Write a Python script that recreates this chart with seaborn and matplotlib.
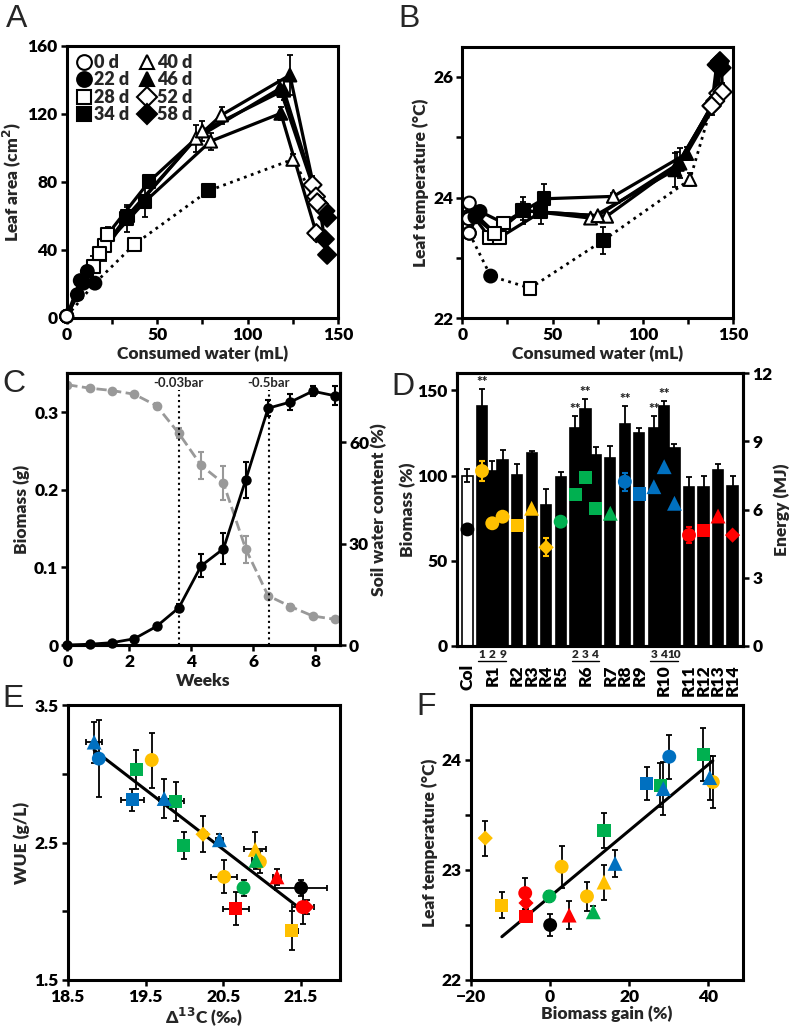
import numpy as np
import pandas as pd
import matplotlib
matplotlib.use('Agg')
import matplotlib.pyplot as plt
import seaborn as sns

# ---- panel A / B: leaf area and leaf temperature vs consumed water (5 plant sets)
days = ['0 d', '22 d', '28 d', '34 d', '40 d', '46 d', '52 d', '58 d']
a_water = [
    [0, 5.9, 14.7, 33.1, 71.5, 117.9, 135.9, 143.0],
    [0, 9.2, 20.8, 43.3, 79.6, 118.4, 138.0, 142.7],
    [0, 11.4, 22.7, 45.5, 85.6, 123.4, 137.8, 144.0],
    [0, 7.5, 18.0, 33.5, 75.0, 120.0, 139.5, 144.0],
    [0, 15.6, 37.5, 78.3, 125.0, np.nan, 138.5, np.nan],
]
a_area = [
    [1, 13.7, 30.3, 58.7, 105.7, 135.0, 78.3, 63.0],
    [1, 20.5, 42.5, 68.5, 104.0, 120.4, 49.9, 46.4],
    [1, 27.4, 49.3, 80.2, 119.4, 142.9, 71.4, 59.0],
    [1, 22.0, 38.0, 60.0, 110.0, 134.0, 67.0, 37.2],
    [1, 20.5, 43.4, 74.8, 93.3, np.nan, 68.0, np.nan],
]
a_err = [
    [0, 2, 6, 8, 8, 5, 5, 3],
    [0, 2, 9, 9, 5, 4, 4, 3],
    [0, 3, 4, 3, 5, 12, 4, 4],
    [0, 2, 4, 5, 6, 6, 4, 3],
    [0, 2, 3, 3, 3, np.nan, 3, np.nan],
]
b_water = [
    [3.9, 5.5, 15.0, 33.8, 71.0, 117.7, 138.0, 140.8],
    [3.9, 8.0, 20.8, 43.5, 79.9, 120.5, 141.7, 142.6],
    [3.9, 9.8, 22.7, 45.2, 83.6, 124.2, 144.0, 143.5],
    [3.5, 7.0, 18.0, 33.5, 75.0, 119.0, 140.0, 142.0],
    [3.9, 15.7, 37.5, 78.0, 126.0, np.nan, 138.0, np.nan],
]
b_temp = [
    [23.70, 23.72, 23.34, 23.79, 23.66, 24.46, 25.52, 26.20],
    [23.41, 23.70, 23.34, 23.76, 23.69, 24.57, 25.73, 26.26],
    [23.91, 23.77, 23.58, 23.98, 24.02, 24.73, 25.75, 26.15],
    [23.65, 23.68, 23.40, 23.78, 23.70, 24.55, 25.60, 26.22],
    [23.41, 22.70, 22.50, 23.29, 24.30, np.nan, 25.52, np.nan],
]
b_err = [
    [0.05, 0.05, 0.08, 0.22, 0.05, 0.28, 0.10, 0.08],
    [0.05, 0.05, 0.08, 0.20, 0.05, 0.25, 0.15, 0.08],
    [0.05, 0.08, 0.10, 0.25, 0.05, 0.10, 0.15, 0.08],
    [0.05, 0.05, 0.08, 0.15, 0.05, 0.20, 0.10, 0.08],
    [0.05, 0.05, 0.05, 0.22, 0.10, np.nan, 0.15, np.nan],
]

# ---- panel C: biomass and soil water over time
c_weeks = [0, 0.72, 1.44, 2.16, 2.88, 3.6, 4.32, 5.04, 5.76, 6.48, 7.2, 7.92, 8.64]
c_biomass = [0, 0.001, 0.003, 0.008, 0.024, 0.048, 0.102, 0.124, 0.213, 0.305, 0.313, 0.327, 0.321]
c_biomass_err = [0, 0, 0.001, 0.002, 0.003, 0.005, 0.015, 0.02, 0.023, 0.01, 0.01, 0.006, 0.012]
c_swc = [77.1, 76.1, 75.4, 74.3, 70.9, 62.7, 53.2, 47.9, 28.4, 14.6, 11.4, 8.6, 7.6]
c_swc_err = [0.5, 0.5, 0.5, 0.5, 0.8, 1.5, 4, 5, 4, 0.8, 0.8, 0.6, 0.6]
c_marks = [3.6, 6.5]
c_mark_labels = ['-0.03bar', '-0.5bar']

# ---- panels D / E / F: lines
lines = ['Col', 'R1-1', 'R1-2', 'R1-9', 'R2', 'R3', 'R4', 'R5', 'R6-2', 'R6-3', 'R6-4',
         'R7', 'R8', 'R9', 'R10-3', 'R10-4', 'R10-10', 'R11', 'R12', 'R13', 'R14']
d_biomass = [100, 141, 102.5, 109, 100.6, 113, 83, 99, 128, 139, 112, 110.5, 130, 125,
             128, 141, 116.4, 93, 93, 103.5, 94]
d_biomass_err = [4, 10, 6, 6, 6, 1.5, 9, 3, 7, 6, 5, 7, 11, 3, 7, 3, 2, 6, 7, 3, 6]
d_sig = ['', '**', '', '', '', '', '', '', '**', '**', '', '', '**', '', '**', '**', '', '', '', '', '']
d_energy = [5.13, 7.70, 5.40, 5.69, 5.32, 6.06, 4.34, 5.47, 6.67, 7.40, 6.06, 5.84, 7.23, 6.69,
            7.01, 7.89, 6.28, 4.88, 5.10, 5.72, 4.88]
d_energy_err = [0, 0.45, 0, 0, 0, 0, 0.4, 0, 0, 0, 0, 0, 0.4, 0, 0, 0, 0, 0.35, 0, 0, 0]

e_d13c = [21.50, 19.58, 20.51, 20.97, 21.38, 20.91, 20.24, 20.76, 19.38, 19.89, 19.99,
          20.92, 18.90, 19.33, 18.84, 19.74, 20.45, 21.52, 20.66, 21.19, 21.57]
e_d13c_err = [0.33, 0.0, 0.17, 0.05, 0.08, 0.14, 0.05, 0.04, 0.03, 0.10, 0.03,
              0.05, 0.05, 0.15, 0.10, 0.07, 0.05, 0.14, 0.17, 0.05, 0.05]
e_wue = [2.17, 3.10, 2.25, 2.36, 1.86, 2.45, 2.56, 2.17, 3.03, 2.80, 2.48,
         2.37, 3.11, 2.81, 3.23, 2.82, 2.52, 2.03, 2.02, 2.25, 2.03]
e_wue_err = [0.06, 0.20, 0.12, 0.08, 0.14, 0.13, 0.13, 0.06, 0.14, 0.14, 0.10,
             0.06, 0.28, 0.08, 0.15, 0.14, 0.04, 0.12, 0.12, 0.06, 0.05]

f_gain = [0, 41.1, 2.9, 9.3, -12.2, 13.6, -16.4, -0.2, 13.6, 27.8, 38.7,
          10.9, 30.1, 24.4, 28.6, 40.3, 16.4, -6.3, -6.1, 4.8, -6.1]
f_temp = [22.50, 23.80, 23.03, 22.76, 22.68, 22.89, 23.29, 22.76, 23.36, 23.77, 24.05,
          22.62, 24.03, 23.79, 23.74, 23.84, 23.06, 22.79, 22.58, 22.59, 22.70]
f_temp_err = [0.10, 0.24, 0.19, 0.13, 0.12, 0.16, 0.16, 0.05, 0.16, 0.20, 0.24,
              0.05, 0.20, 0.15, 0.24, 0.20, 0.12, 0.14, 0.05, 0.13, 0.05]
f_outlier = 'R4'

# colours / markers per family
YEL, GRN, BLU, RED = '#FFC000', '#00B050', '#0070C0', '#FF0000'
fam_color = {'Col': 'black', 'R1': YEL, 'R2': YEL, 'R3': YEL, 'R4': YEL,
             'R5': GRN, 'R6': GRN, 'R7': GRN, 'R8': BLU, 'R9': BLU, 'R10': BLU,
             'R11': RED, 'R12': RED, 'R13': RED, 'R14': RED}
fam_marker = {'Col': 'o', 'R1': 'o', 'R2': 's', 'R3': '^', 'R4': 'D', 'R5': 'o', 'R6': 's',
              'R7': '^', 'R8': 'o', 'R9': 's', 'R10': '^', 'R11': 'o', 'R12': 's',
              'R13': '^', 'R14': 'D'}
mk_size = {'o': 100, 's': 90, '^': 115, 'D': 60}

fams = [n.split('-')[0] for n in lines]
pal = {n: fam_color[f] for n, f in zip(lines, fams)}
mks = {n: fam_marker[f] for n, f in zip(lines, fams)}

sns.set_theme(style='ticks')
plt.rcParams['font.family'] = ['Lato', 'DejaVu Sans']
plt.rcParams['font.weight'] = 'heavy'
plt.rcParams['axes.labelweight'] = 'heavy'
plt.rcParams['axes.labelsize'] = 12.5
plt.rcParams['xtick.labelsize'] = 12.5
plt.rcParams['ytick.labelsize'] = 12.5

W, H = 793, 1031
fig = plt.figure(figsize=(W / 100, H / 100), dpi=100)
fig.patch.set_facecolor('white')


def px_axes(l, t, r, b):
    return fig.add_axes([l / W, 1 - b / H, (r - l) / W, (b - t) / H])


def style(ax):
    for sp in ax.spines.values():
        sp.set_visible(True)
        sp.set_linewidth(2.2)
        sp.set_color('black')
    ax.tick_params(which='both', direction='out', width=1.8, length=4, color='black',
                   labelcolor='black', pad=2.5)


def letter(x, y, s):
    fig.text(x / W, 1 - y / H, s, fontsize=23, fontweight='normal',
             family=['Liberation Sans', 'DejaVu Sans'], va='top', ha='left')


day_face = {'0 d': 'white', '22 d': 'black', '28 d': 'white', '34 d': 'black',
            '40 d': 'white', '46 d': 'black', '52 d': 'white', '58 d': 'black'}
day_marker = {'0 d': 'o', '22 d': 'o', '28 d': 's', '34 d': 's',
              '40 d': '^', '46 d': '^', '52 d': 'D', '58 d': 'D'}


def water_panel(ax, xs, ys, errs, legend):
    rows = []
    for i, (x, y, e) in enumerate(zip(xs, ys, errs)):
        df = pd.DataFrame({'x': x, 'y': y, 'e': e, 'day': days}).dropna()
        ax.plot(df['x'], df['y'], color='black', lw=2.3 if i < 4 else 2,
                ls='-' if i < 4 else ':', zorder=2)
        ax.errorbar(df['x'], df['y'], yerr=df['e'], fmt='none', ecolor='black',
                    elinewidth=1.3, capsize=2, capthick=1.3, zorder=2.5)
        rows.append(df)
    pts = pd.concat(rows)
    sns.scatterplot(data=pts, x='x', y='y', hue='day', style='day', hue_order=days,
                    style_order=days, palette=day_face, markers=day_marker, s=85,
                    edgecolor='black', linewidth=1.5, ax=ax, legend=legend,
                    zorder=3, clip_on=False)


# ---- A
axA = px_axes(66.7, 46, 338, 318)
water_panel(axA, a_water, a_area, a_err, 'full')
axA.set_xlim(0, 150)
axA.set_ylim(0, 160)
axA.set_xticks([0, 50, 100, 150])
axA.set_xticks([25, 75, 125], minor=True)
axA.set_yticks([0, 40, 80, 120, 160])
axA.set_xlabel('Consumed water (mL)', labelpad=2)
axA.set_ylabel('Leaf area (cm$^\\mathbf{2}$)', labelpad=3)
sns.move_legend(axA, 'upper left', ncol=2, frameon=False, title=None,
                columnspacing=0.5, handletextpad=0.05, labelspacing=0.02,
                borderaxespad=0.25, borderpad=0.2, handlelength=1.0, markerscale=1.15,
                prop={'weight': 'heavy', 'size': 13})
style(axA)
letter(6, 4, 'A')

# ---- B
axB = px_axes(462.3, 46.7, 733.3, 318.3)
water_panel(axB, b_water, b_temp, b_err, False)
axB.set_xlim(0, 150)
axB.set_ylim(22, 26.5)
axB.set_xticks([0, 50, 100, 150])
axB.set_xticks([25, 75, 125], minor=True)
axB.set_yticks([22, 24, 26])
axB.set_yticks([23, 25], minor=True)
axB.set_xlabel('Consumed water (mL)', labelpad=2)
axB.set_ylabel('Leaf temperature (°C)', labelpad=3)
style(axB)
letter(398, 4, 'B')

# ---- C
axC = px_axes(67.3, 373.3, 340, 645)
axC2 = axC.twinx()
axC.set_zorder(axC2.get_zorder() + 1)
axC.patch.set_visible(False)
sns.lineplot(x=c_weeks, y=c_swc, color='#999999', lw=2, linestyle='--', marker='o',
             markersize=7, markeredgewidth=0, ax=axC2)
axC2.errorbar(c_weeks, c_swc, yerr=c_swc_err, fmt='none', ecolor='#999999',
              elinewidth=1.5, capsize=2, capthick=1.5)
sns.lineplot(x=c_weeks, y=c_biomass, color='black', lw=2, marker='o',
             markersize=7.5, markeredgewidth=0, ax=axC, zorder=3, clip_on=False)
axC.errorbar(c_weeks, c_biomass, yerr=c_biomass_err, fmt='none', ecolor='black',
             elinewidth=1.5, capsize=2, capthick=1.5, zorder=3)
for xm, lab in zip(c_marks, c_mark_labels):
    axC.vlines(xm, 0, 0.328, colors='black', linestyles=':', lw=1.5)
    axC.text(xm, 0.3375, lab, ha='center', va='center', fontsize=9.5,
             family=['Lato', 'DejaVu Sans'], fontweight='bold')
axC.set_xlim(0, 8.8)
axC.set_ylim(0, 0.35)
axC2.set_ylim(0, 80.5)
axC.set_xticks([0, 2, 4, 6, 8])
axC.set_yticks([0, 0.1, 0.2, 0.3], ['0', '0.1', '0.2', '0.3'])
axC2.set_yticks([0, 30, 60])
axC.set_xlabel('Weeks', labelpad=2)
axC.set_ylabel('Biomass (g)', labelpad=3)
axC2.set_ylabel('Soil water content (%)', labelpad=1)
style(axC)
style(axC2)
letter(2, 369, 'C')

# ---- D
axD = px_axes(456.7, 373.3, 743.3, 646)
d_pos = []
cur = 0.0
for i, f in enumerate(fams):
    if i > 0:
        cur += 0.71 if f == fams[i - 1] else 1.0
    d_pos.append(cur)
d_df = pd.DataFrame({'line': lines, 'fam': fams, 'pos': d_pos, 'bio': d_biomass,
                     'bio_err': d_biomass_err, 'sig': d_sig, 'en': d_energy,
                     'en_err': d_energy_err})
bar_face = ['white' if f == 'Col' else 'black' for f in fams]
axD.bar(d_df['pos'], d_df['bio'], width=0.7, color=bar_face, edgecolor='black', lw=1.2)
axD.errorbar(d_df['pos'], d_df['bio'], yerr=d_df['bio_err'], fmt='none', ecolor='black',
             elinewidth=1.3, capsize=2, capthick=1.3)
for _, r in d_df.iterrows():
    if r['sig']:
        axD.text(r['pos'], r['bio'] + r['bio_err'] + 0.5, r['sig'], ha='center',
                 va='bottom', fontsize=9.5)
fam_order = list(dict.fromkeys(fams))
centers = [d_df.loc[d_df['fam'] == f, 'pos'].mean() for f in fam_order]
axD.set_xticks(centers, fam_order, rotation=90)
axD.tick_params(axis='x', length=0, pad=13)
trans = axD.get_xaxis_transform()
for f in fam_order:
    sub = d_df[(d_df['fam'] == f) & d_df['line'].str.contains('-')]
    if len(sub) == 0:
        continue
    for _, r in sub.iterrows():
        axD.text(r['pos'], -0.033, r['line'].split('-')[1], transform=trans,
                 ha='center', va='center', fontsize=8.5, clip_on=False)
    axD.plot([sub['pos'].min() - 0.25, sub['pos'].max() + 0.25], [-0.056, -0.056],
             transform=trans, color='black', lw=1, clip_on=False)
axD.set_xlim(-0.74, 19.0)
axD.set_ylim(0, 160)
axD.set_yticks([0, 50, 100, 150])
axD.set_ylabel('Biomass (%)', labelpad=1)
axD2 = axD.twinx()
d_df['mk'] = [fam_marker[f] for f in fams]
for _, r in d_df[d_df['en_err'] > 0].iterrows():
    axD2.errorbar(r['pos'], r['en'], yerr=r['en_err'], fmt='none', ecolor=pal[r['line']],
                  elinewidth=1.5, capsize=2, capthick=1.5)
sns.scatterplot(data=d_df, x='pos', y='en', hue='line', style='line', palette=pal,
                markers=mks, size='mk', sizes=mk_size, linewidth=0, legend=False,
                ax=axD2, zorder=3)
axD2.set_ylim(0, 12)
axD2.set_yticks([0, 3, 6, 9, 12])
axD2.set_ylabel('Energy (MJ)', labelpad=1)
axD2.set_xlabel('')
style(axD)
style(axD2)
axD.tick_params(axis='x', length=0, pad=13)
letter(391, 372, 'D')


def scatter_panel(ax, df, x, y, xerr=None, yerr=None):
    ax.errorbar(df[x], df[y], xerr=None if xerr is None else df[xerr],
                yerr=None if yerr is None else df[yerr], fmt='none', ecolor='black',
                elinewidth=1.3, capsize=2.5, capthick=1.3, zorder=2)
    sns.scatterplot(data=df, x=x, y=y, hue='line', style='line', palette=pal,
                    markers=mks, size='mk', sizes=mk_size, linewidth=0, legend=False,
                    ax=ax, zorder=3)


# ---- E
axE = px_axes(67.7, 705, 340, 980)
e_df = pd.DataFrame({'line': lines, 'fam': fams, 'mk': [fam_marker[f] for f in fams],
                     'd13c': e_d13c, 'd13c_err': e_d13c_err, 'wue': e_wue,
                     'wue_err': e_wue_err})
scatter_panel(axE, e_df, 'd13c', 'wue', 'd13c_err', 'wue_err')
sns.regplot(data=e_df, x='d13c', y='wue', scatter=False, ci=None, color='black',
            line_kws={'lw': 2.2, 'zorder': 2.5}, ax=axE)
axE.set_xlim(18.5, 22.0)
axE.set_ylim(1.5, 3.5)
axE.set_xticks([18.5, 19.5, 20.5, 21.5])
axE.set_yticks([1.5, 2.5, 3.5])
axE.set_yticks([2.0, 3.0], minor=True)
axE.set_xlabel('Δ$^{\\mathbf{13}}$C (‰)', labelpad=0)
axE.set_ylabel('WUE (g/L)', labelpad=3)
style(axE)
letter(2, 684, 'E')

# ---- F
axF = px_axes(471, 705, 743.3, 980)
f_df = pd.DataFrame({'line': lines, 'fam': fams, 'mk': [fam_marker[f] for f in fams],
                     'gain': f_gain, 'temp': f_temp, 'temp_err': f_temp_err})
scatter_panel(axF, f_df, 'gain', 'temp', None, 'temp_err')
sns.regplot(data=f_df[f_df['fam'] != f_outlier], x='gain', y='temp', scatter=False,
            ci=None, color='black', line_kws={'lw': 2.2, 'zorder': 2.5}, ax=axF)
axF.set_xlim(-20, 48.8)
axF.set_ylim(22, 24.5)
axF.set_xticks([-20, 0, 20, 40])
axF.set_yticks([22, 23, 24])
axF.set_yticks([22.5, 23.5], minor=True)
axF.set_xlabel('Biomass gain (%)', labelpad=0)
axF.set_ylabel('Leaf temperature (°C)', labelpad=3)
style(axF)
letter(416, 692, 'F')

fig.savefig('out.png', dpi=100, facecolor='white')
